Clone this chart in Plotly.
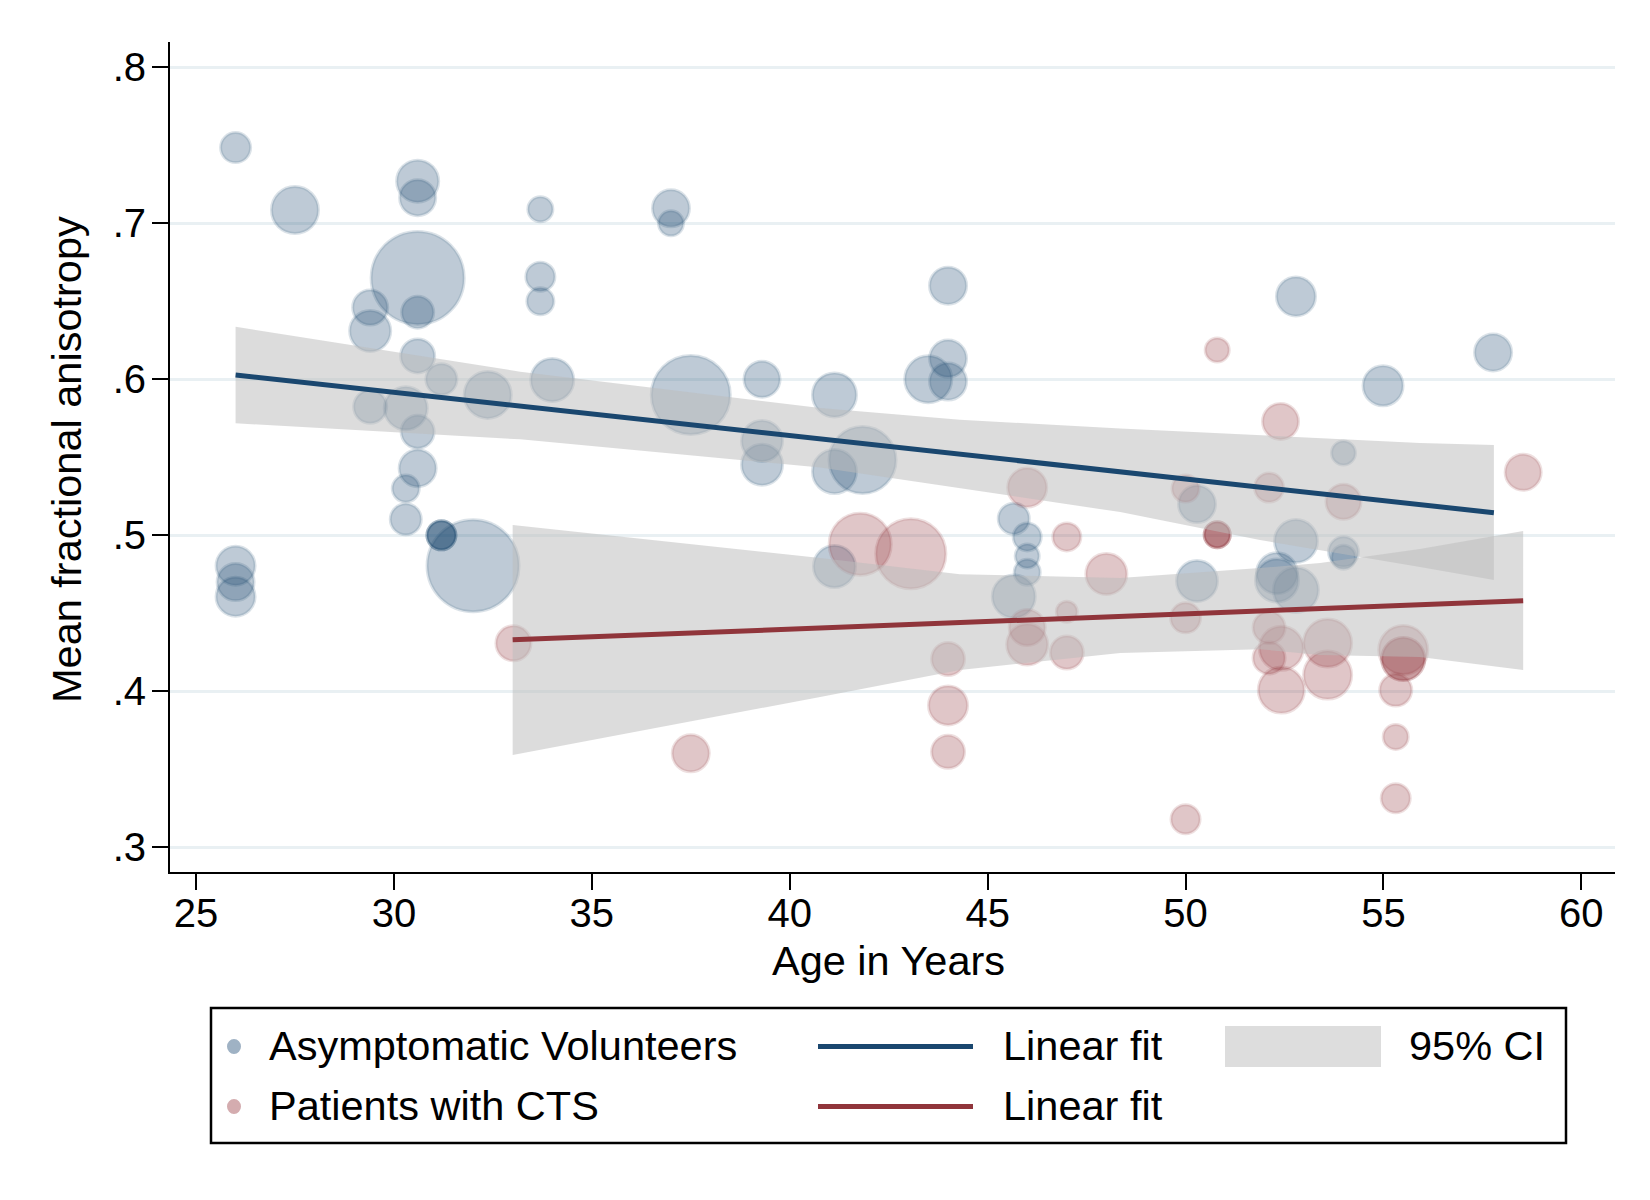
import plotly.graph_objects as go

# ---------------- data ----------------
# Asymptomatic Volunteers: age, mean FA, bubble weight (diameter, px)
vol_age = [26.0, 27.5, 30.6, 30.6, 30.6, 29.4, 29.4, 30.6, 30.6, 31.2,
           32.37, 29.4, 30.3, 30.6, 30.6, 30.3, 30.3, 31.2, 31.2, 31.2,
           32.0, 26.0, 26.0, 26.0, 33.7, 33.7, 33.7, 34.0, 37.0, 37.0,
           37.5, 39.3, 39.3, 39.3, 41.13, 41.13, 41.84, 41.13, 43.5, 44.0,
           44.0, 44.0, 45.66, 46.0, 46.0, 46.0, 45.66, 50.29, 50.29, 52.79,
           54.99, 53.99, 53.99, 53.99, 52.79, 52.31, 52.31, 52.79, 57.77]
vol_fa = [.7485, .7085, .727, .7164, .665, .646, .631, .643, .615, .600,
          .590, .5824, .5814, .5664, .543, .530, .5103, .500, .500, .500,
          .4805, .4805, .470, .4607, .709, .6658, .650, .5996, .7096, .700,
          .590, .600, .5605, .5453, .590, .5409, .5483, .480, .600, .6133,
          .5986, .660, .5107, .499, .4867, .4764, .4608, .520, .4707, .6531,
          .5959, .5528, .4894, .486, .4963, .4757, .4711, .4649, .6172]
vol_size = [31, 48, 43, 37, 94, 36, 42, 33, 35, 32,
            48, 34, 44, 34, 38, 28, 32, 30, 30, 30,
            93, 40, 38, 40, 26, 30, 28, 44, 38, 26,
            80, 37, 42, 42, 45, 45, 68, 43, 48, 38,
            38, 38, 32, 29, 25, 27, 44, 38, 42, 40,
            41, 25, 31, 25, 44, 42, 44, 46, 38]

# Patients with CTS
cts_age = [33.02, 37.5, 41.78, 43.06, 44.0, 44.0, 44.0, 46.0, 46.0, 46.0,
           47.0, 47.0, 47.0, 48.0, 50.0, 50.0, 50.0, 50.8, 50.8, 50.8,
           50.8, 52.4, 52.11, 52.11, 52.11, 52.42, 52.42, 53.59, 53.59, 53.99,
           55.5, 55.5, 55.5, 55.31, 55.31, 55.31, 58.53]
cts_fa = [.4308, .3603, .4943, .4882, .4207, .391, .3612, .5306, .4409, .430,
          .499, .451, .4249, .4752, .530, .4471, .318, .6188, .5004, .5004,
          .5004, .573, .5306, .4409, .4214, .4276, .4008, .431, .4104, .5215,
          .4265, .4207, .4207, .4008, .3708, .3315, .5404]
cts_size = [36, 38, 63, 71, 34, 40, 34, 40, 37, 42,
            29, 22, 34, 42, 28, 31, 30, 25, 27, 27,
            27, 37, 30, 33, 33, 45, 47, 49, 49, 36,
            50, 44, 44, 33, 26, 30, 37]

# Linear fits
vol_fit_age = [26.0, 57.79]
vol_fit_fa = [.6028, .5145]
cts_fit_age = [33.0, 58.53]
cts_fit_fa = [.433, .458]

# 95% CI bands
vol_ci_age = [26.0, 33.19, 40.77, 44.30, 48.35, 51.88, 53.40, 55.92, 57.79]
vol_ci_hi = [.6337, .6049, .5816, .5740, .5685, .5643, .5624, .5592, .5579]
vol_ci_lo = [.5718, .5615, .5435, .5303, .5149, .4970, .4906, .4797, .4713]
cts_ci_age = [33.0, 40.77, 44.30, 48.35, 51.88, 53.40, 55.92, 58.53]
cts_ci_hi = [.5066, .4855, .4751, .4727, .4790, .4822, .4912, .5027]
cts_ci_lo = [.3592, .3964, .4137, .4246, .4270, .4233, .4220, .4137]

x_ticks = [25, 30, 35, 40, 45, 50, 55, 60]
y_ticks = [.3, .4, .5, .6, .7, .8]
y_ticklabels = [".3", ".4", ".5", ".6", ".7", ".8"]

# ---------------- style ----------------
NAVY = "rgb(26,71,111)"
MAROON = "rgb(144,53,59)"
NAVY_A = "rgba(26,71,111,0.40)"
MAROON_A = "rgba(144,53,59,0.40)"
NAVY_L = "rgba(26,71,111,0.22)"
MAROON_L = "rgba(144,53,59,0.22)"
BAND = "rgba(188,188,188,0.52)"
FONT = "Liberation Sans, Arial, Helvetica, sans-serif"
FS_TICK = 40
FS = 41.5

W, H = 1650, 1200
L, R, T, B = 170, 35, 42, 328
PW, PH = W - L - R, H - T - B


def pxx(x):
    return (x - L) / PW


def pxy(y):
    return (H - B - y) / PH


fig = go.Figure()

fig.add_trace(go.Scatter(
    x=vol_age, y=vol_fa, mode="markers", name="Asymptomatic Volunteers",
    marker=dict(size=[s - 1 for s in vol_size], color=NAVY_A,
                line=dict(color=NAVY_L, width=3)),
    hoverinfo="x+y"))
fig.add_trace(go.Scatter(
    x=cts_age, y=cts_fa, mode="markers", name="Patients with CTS",
    marker=dict(size=[s - 1 for s in cts_size], color=MAROON_A,
                line=dict(color=MAROON_L, width=3)),
    hoverinfo="x+y"))


def band(xs, hi, lo):
    return go.Scatter(x=xs + xs[::-1], y=hi + lo[::-1], fill="toself",
                      fillcolor=BAND, line=dict(width=0), mode="lines",
                      hoverinfo="skip", name="95% CI")


fig.add_trace(band(vol_ci_age, vol_ci_hi, vol_ci_lo))
fig.add_trace(go.Scatter(x=vol_fit_age, y=vol_fit_fa, mode="lines",
                         line=dict(color=NAVY, width=5), name="Linear fit"))
fig.add_trace(band(cts_ci_age, cts_ci_hi, cts_ci_lo))
fig.add_trace(go.Scatter(x=cts_fit_age, y=cts_fit_fa, mode="lines",
                         line=dict(color=MAROON, width=5), name="Linear fit"))

axis_common = dict(showline=True, linecolor="black", linewidth=2,
                   ticks="outside", ticklen=16, tickwidth=2, tickcolor="black",
                   zeroline=False, mirror=False,
                   tickfont=dict(family=FONT, size=FS_TICK, color="black"))

fig.update_xaxes(range=[24.343, 60.85], tickvals=x_ticks, showgrid=False,
                 ticklabelstandoff=-11, **axis_common)
fig.update_yaxes(range=[.2842, .8162], tickvals=y_ticks, ticktext=y_ticklabels,
                 showgrid=True, gridcolor="#e9f0f3", gridwidth=2.5,
                 ticklabelstandoff=-2, **axis_common)

ann = [
    dict(text="Age in Years", x=pxx(888), y=pxy(960), xref="paper", yref="paper",
         showarrow=False, xanchor="center", yanchor="middle",
         font=dict(family=FONT, size=FS, color="black")),
    dict(text="Mean fractional anisotropy", x=pxx(66), y=pxy(460),
         xref="paper", yref="paper", showarrow=False, textangle=-90,
         xanchor="center", yanchor="middle",
         font=dict(family=FONT, size=FS, color="black")),
]

# legend (drawn manually to match the boxed 3-column layout)
row1, row2 = 1045.5, 1105.5
legend_items = [
    ("Asymptomatic Volunteers", 267, row1),
    ("Patients with CTS", 267, row2),
    ("Linear fit", 1001, row1),
    ("Linear fit", 1001, row2),
    ("95% CI", 1407, row1),
]
for txt, lx, ly in legend_items:
    ann.append(dict(text=txt, x=pxx(lx), y=pxy(ly), xref="paper", yref="paper",
                    showarrow=False, xanchor="left", yanchor="middle",
                    font=dict(family=FONT, size=FS, color="black")))

shapes = [
    dict(type="rect", xref="paper", yref="paper", x0=pxx(211), x1=pxx(1566),
         y0=pxy(1008), y1=pxy(1143), line=dict(color="black", width=2.5),
         fillcolor="white", layer="below"),
    dict(type="line", xref="paper", yref="paper", x0=pxx(818), x1=pxx(973),
         y0=pxy(row1 + 1), y1=pxy(row1 + 1), line=dict(color=NAVY, width=5)),
    dict(type="line", xref="paper", yref="paper", x0=pxx(818), x1=pxx(973),
         y0=pxy(row2 + 1), y1=pxy(row2 + 1), line=dict(color=MAROON, width=5)),
    dict(type="rect", xref="paper", yref="paper", x0=pxx(1225), x1=pxx(1381),
         y0=pxy(1067), y1=pxy(1026), line=dict(width=0), fillcolor="#dddddd"),
    dict(type="circle", xref="paper", yref="paper", x0=pxx(227), x1=pxx(241),
         y0=pxy(row1 + 8.5), y1=pxy(row1 - 6.5), line=dict(width=0),
         fillcolor="rgb(159,178,196)"),
    dict(type="circle", xref="paper", yref="paper", x0=pxx(227), x1=pxx(241),
         y0=pxy(row2 + 8.5), y1=pxy(row2 - 6.5), line=dict(width=0),
         fillcolor="rgb(212,172,175)"),
]

fig.update_layout(
    width=W, height=H, margin=dict(l=L, r=R, t=T, b=B, pad=0),
    paper_bgcolor="white", plot_bgcolor="white", showlegend=False,
    font=dict(family=FONT, size=FS, color="black"),
    annotations=ann, shapes=shapes,
)

fig.write_html("out.html", config={"displayModeBar": False},
               post_script="document.body.style.margin='0';")
